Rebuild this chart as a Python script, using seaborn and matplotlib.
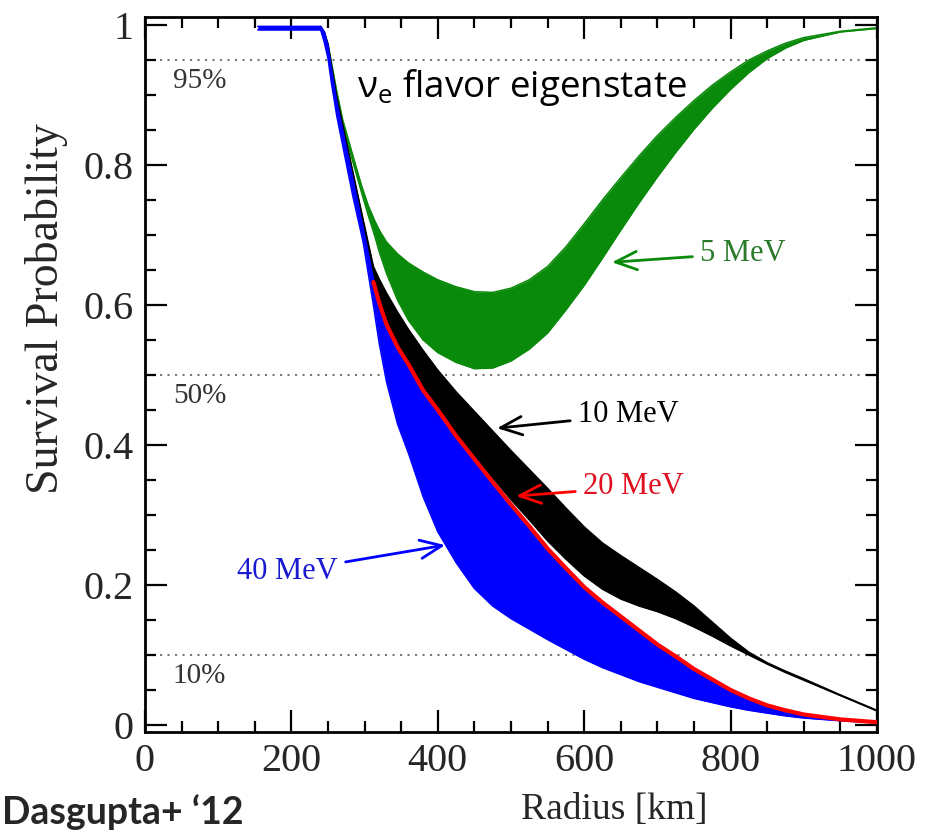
import numpy as np
import pandas as pd
import matplotlib
matplotlib.use("Agg")
import matplotlib.pyplot as plt
import seaborn as sns
from matplotlib.ticker import MultipleLocator

# ---------------- data ----------------
# 5 MeV band (green)
r_5 = [245, 250, 255, 262, 270, 283, 296, 305, 314, 320, 330, 345, 360, 380, 400, 425, 450,
       475, 500, 525, 550, 575, 600, 625, 650, 675, 700, 725, 750, 775, 800, 825, 850, 875,
       900, 950, 1000]
up_5 = [0.99, 0.973, 0.945, 0.905, 0.865, 0.817, 0.77, 0.742, 0.72, 0.707, 0.69, 0.673, 0.66,
        0.647, 0.636, 0.626, 0.619, 0.618, 0.624, 0.636, 0.655, 0.683, 0.716, 0.75, 0.782,
        0.813, 0.842, 0.868, 0.892, 0.914, 0.933, 0.95, 0.963, 0.974, 0.982, 0.991, 0.996]
lo_5 = [0.985, 0.965, 0.935, 0.895, 0.855, 0.808, 0.76, 0.728, 0.698, 0.676, 0.645, 0.607,
        0.578, 0.55, 0.532, 0.518, 0.509, 0.51, 0.52, 0.537, 0.56, 0.593, 0.628, 0.667, 0.707,
        0.746, 0.783, 0.818, 0.851, 0.881, 0.908, 0.932, 0.952, 0.967, 0.978, 0.99, 0.995]

# 10 MeV band (black)
r_10 = [240, 245, 250, 255, 262, 270, 284, 298, 312, 320, 330, 345, 360, 380, 400, 425, 450,
        475, 500, 525, 550, 575, 600, 625, 650, 675, 700, 725, 750, 775, 800, 825, 850, 875,
        900, 950, 1000]
up_10 = [0.998, 0.99, 0.972, 0.94, 0.897, 0.858, 0.79, 0.722, 0.655, 0.637, 0.617, 0.59,
         0.565, 0.535, 0.507, 0.476, 0.448, 0.42, 0.392, 0.365, 0.338, 0.31, 0.283, 0.26,
         0.242, 0.225, 0.208, 0.19, 0.17, 0.147, 0.124, 0.104, 0.089, 0.077, 0.066, 0.043,
         0.021]
lo_10 = [0.994, 0.98, 0.958, 0.922, 0.878, 0.838, 0.768, 0.7, 0.63, 0.603, 0.574, 0.543,
         0.518, 0.482, 0.454, 0.418, 0.385, 0.353, 0.322, 0.293, 0.263, 0.237, 0.213, 0.194,
         0.18, 0.17, 0.162, 0.152, 0.14, 0.127, 0.113, 0.1, 0.087, 0.075, 0.064, 0.042, 0.02]

# 20 MeV line (red)
r_20 = [312, 320, 330, 345, 360, 380, 400, 425, 450, 475, 500, 525, 550, 575, 600, 625,
        650, 675, 700, 725, 750, 775, 800, 825, 850, 875, 900, 950, 1000]
p_20 = [0.633, 0.603, 0.572, 0.54, 0.515, 0.478, 0.45, 0.413, 0.38, 0.347, 0.315,
        0.284, 0.252, 0.224, 0.197, 0.175, 0.155, 0.135, 0.115, 0.098, 0.08, 0.065, 0.05,
        0.038, 0.028, 0.021, 0.015, 0.008, 0.004]

# 40 MeV band (blue)
r_40 = [154, 175, 200, 220, 240, 245, 250, 255, 262, 270, 284, 298, 312, 320, 330, 345, 360,
        380, 400, 425, 450, 475, 500, 525, 550, 575, 600, 625, 650, 675, 700, 725, 750, 775,
        800, 825, 850, 875, 900, 950, 1000]
up_40 = [0.998, 0.998, 0.998, 0.998, 0.998, 0.99, 0.97, 0.935, 0.89, 0.85, 0.78, 0.71, 0.637,
         0.603, 0.572, 0.54, 0.515, 0.478, 0.45, 0.413, 0.38, 0.347, 0.315, 0.284, 0.252,
         0.224, 0.197, 0.175, 0.155, 0.135, 0.115, 0.098, 0.08, 0.065, 0.05, 0.038, 0.028,
         0.021, 0.015, 0.008, 0.004]
lo_40 = [0.993, 0.993, 0.993, 0.993, 0.993, 0.975, 0.952, 0.915, 0.87, 0.828, 0.755, 0.69,
         0.6, 0.545, 0.49, 0.43, 0.388, 0.326, 0.276, 0.232, 0.195, 0.17, 0.152, 0.137,
         0.122, 0.108, 0.094, 0.082, 0.072, 0.062, 0.054, 0.046, 0.038, 0.032, 0.026, 0.021,
         0.017, 0.013, 0.01, 0.006, 0.003]

ref_levels = [0.95, 0.5, 0.1]
ref_labels = ["95%", "50%", "10%"]

x_ticks = [0, 200, 400, 600, 800, 1000]
x_ticklabels = ["0", "200", "400", "600", "800", "1000"]
y_ticks = [0, 0.2, 0.4, 0.6, 0.8, 1.0]
y_ticklabels = ["0", "0.2", "0.4", "0.6", "0.8", "1"]

# ---------------- style ----------------
sns.set_theme(style="ticks")
plt.rcParams["font.family"] = ["Liberation Serif", "DejaVu Serif"]
plt.rcParams["mathtext.fontset"] = "custom"
plt.rcParams["mathtext.rm"] = "Open Sans"
plt.rcParams["mathtext.it"] = "Open Sans"

GREEN = "#0a8a0a"
BLUE = "#0000ff"
RED = "#ff0000"
BLACK = "#000000"

fig = plt.figure(figsize=(9.33, 8.32), dpi=100)
ax = fig.add_axes([145 / 933, 1 - 732 / 832, 732 / 933, 715 / 832])

# reference dotted levels
for lev, lab in zip(ref_levels, ref_labels):
    ax.axhline(lev, color="#777777", lw=1.5, ls=(0, (1, 2.6)), zorder=0.5)
    ax.text(38, lev - 0.012, lab, fontsize=21, color="#333333", ha="left", va="top")

bands = [
    (r_5, lo_5, up_5, GREEN, 1),
    (r_10, lo_10, up_10, BLACK, 2),
    (r_40, lo_40, up_40, BLUE, 3),
]
for r, lo, up, col, z in bands:
    ax.fill_between(r, lo, up, color=col, lw=0, zorder=z)
    d = pd.DataFrame({"r": r, "lo": lo, "up": up})
    sns.lineplot(data=d, x="r", y="lo", ax=ax, color=col, lw=1.1, sort=False,
                 estimator=None, zorder=z)
    sns.lineplot(data=d, x="r", y="up", ax=ax, color=col, lw=1.1, sort=False,
                 estimator=None, zorder=z)

d20 = pd.DataFrame({"r": r_20, "p": p_20})
sns.lineplot(data=d20, x="r", y="p", ax=ax, color=RED, lw=3.0, sort=False,
             estimator=None, zorder=4)

# annotations
arrow_kw = dict(arrowstyle="->,head_length=0.7,head_width=0.3", lw=2,
                mutation_scale=22, shrinkA=3, shrinkB=0)
ax.annotate("5 MeV", xy=(638, 0.661), xytext=(758, 0.674), fontsize=22,
            color="#2b7a2b", ha="left", va="center",
            arrowprops=dict(color=GREEN, **arrow_kw), zorder=6)
ax.annotate("10 MeV", xy=(481, 0.424), xytext=(591, 0.443), fontsize=22,
            color=BLACK, ha="left", va="center",
            arrowprops=dict(color=BLACK, **arrow_kw), zorder=6)
ax.annotate("20 MeV", xy=(507, 0.327), xytext=(598, 0.34), fontsize=22,
            color="#e01020", ha="left", va="center",
            arrowprops=dict(color=RED, **arrow_kw), zorder=6)
ax.annotate("40 MeV", xy=(410, 0.257), xytext=(264, 0.219), fontsize=22,
            color="#1a1ad0", ha="right", va="center",
            arrowprops=dict(color=BLUE, **arrow_kw), zorder=6)

ax.text(289, 0.897, r"$\mathregular{\nu_e}$ flavor eigenstate", fontsize=26.5,
        family=["Open Sans", "DejaVu Sans"], ha="left", va="baseline", color="black",
        zorder=7)

# axes
ax.set_xlim(0, 1000)
ax.set_ylim(-0.01, 1.0114)
ax.set_xticks(x_ticks)
ax.set_xticklabels(x_ticklabels)
ax.set_yticks(y_ticks)
ax.set_yticklabels(y_ticklabels)
ax.xaxis.set_minor_locator(MultipleLocator(50))
ax.yaxis.set_minor_locator(MultipleLocator(0.05))
ax.tick_params(which="both", direction="in", top=True, right=True, width=1.6,
               color="black", labelsize=29, pad=8)
ax.tick_params(which="major", length=16)
ax.tick_params(which="minor", length=8)
for s in ax.spines.values():
    s.set_linewidth(2)
    s.set_color("black")
ax.set_xlabel("Radius [km]", fontsize=27)
ax.set_ylabel("Survival Probability", fontsize=33)
ax.xaxis.set_label_coords(0.641, -0.085)
ax.yaxis.set_label_coords(-0.105, 0.592)

fig.text(0.002, 0.003, "Dasgupta+ \u201812", fontsize=27, fontweight="bold",
         family=["Lato", "Open Sans", "DejaVu Sans"], ha="left", va="bottom")

fig.savefig("out.png", dpi=100)
